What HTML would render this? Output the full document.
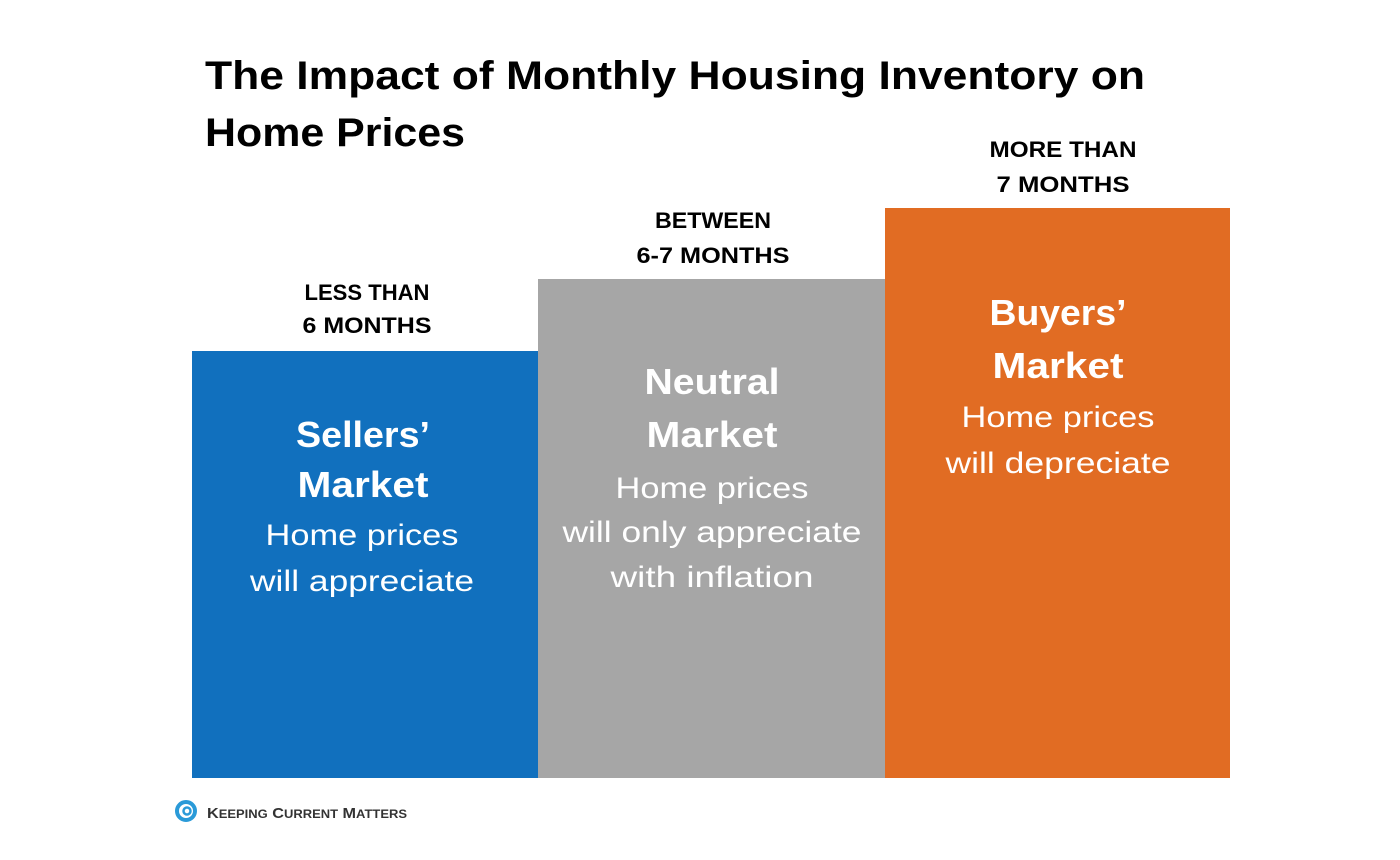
<!DOCTYPE html>
<html><head><meta charset="utf-8"><style>html,body{margin:0;padding:0;background:#fff}svg{display:block}</style></head>
<body>
<svg width="1400" height="860" xmlns="http://www.w3.org/2000/svg" font-family="Liberation Sans, sans-serif">
<rect width="1400" height="860" fill="#fff"/>
<text x="205" y="89" font-size="40" font-weight="bold" fill="#000" textLength="940" lengthAdjust="spacingAndGlyphs">The Impact of Monthly Housing Inventory on</text>
<text x="205" y="146" font-size="40" font-weight="bold" fill="#000" textLength="260" lengthAdjust="spacingAndGlyphs">Home Prices</text>
<rect x="192" y="351" width="346" height="427" fill="#1170be"/>
<rect x="538" y="279" width="347" height="499" fill="#a6a6a6"/>
<rect x="885" y="208" width="345" height="570" fill="#e16c23"/>
<g font-weight="bold" font-size="22" fill="#000" text-anchor="middle" lengthAdjust="spacingAndGlyphs">
<text x="367" y="300" textLength="125" lengthAdjust="spacingAndGlyphs">LESS THAN</text>
<text x="367" y="333" textLength="129" lengthAdjust="spacingAndGlyphs">6 MONTHS</text>
<text x="713" y="228" textLength="116" lengthAdjust="spacingAndGlyphs">BETWEEN</text>
<text x="713" y="263" textLength="153" lengthAdjust="spacingAndGlyphs">6-7 MONTHS</text>
<text x="1063" y="157" textLength="147" lengthAdjust="spacingAndGlyphs">MORE THAN</text>
<text x="1063" y="192" textLength="133" lengthAdjust="spacingAndGlyphs">7 MONTHS</text>
</g>
<g fill="#fff" text-anchor="middle">
<text x="363" y="447" font-size="36" font-weight="bold" textLength="134" lengthAdjust="spacingAndGlyphs">Sellers’</text>
<text x="363" y="497" font-size="36" font-weight="bold" textLength="131" lengthAdjust="spacingAndGlyphs">Market</text>
<text x="362" y="545" font-size="30" textLength="193" lengthAdjust="spacingAndGlyphs">Home prices</text>
<text x="362" y="591" font-size="30" textLength="224" lengthAdjust="spacingAndGlyphs">will appreciate</text>
<text x="712" y="394" font-size="36" font-weight="bold" textLength="135" lengthAdjust="spacingAndGlyphs">Neutral</text>
<text x="712" y="447" font-size="36" font-weight="bold" textLength="131" lengthAdjust="spacingAndGlyphs">Market</text>
<text x="712" y="498" font-size="30" textLength="193" lengthAdjust="spacingAndGlyphs">Home prices</text>
<text x="712" y="542" font-size="30" textLength="299" lengthAdjust="spacingAndGlyphs">will only appreciate</text>
<text x="712" y="587" font-size="30" textLength="203" lengthAdjust="spacingAndGlyphs">with inflation</text>
<text x="1058" y="325" font-size="36" font-weight="bold" textLength="137" lengthAdjust="spacingAndGlyphs">Buyers’</text>
<text x="1058" y="378" font-size="36" font-weight="bold" textLength="131" lengthAdjust="spacingAndGlyphs">Market</text>
<text x="1058" y="427" font-size="30" textLength="193" lengthAdjust="spacingAndGlyphs">Home prices</text>
<text x="1058" y="473" font-size="30" textLength="225" lengthAdjust="spacingAndGlyphs">will depreciate</text>
</g>
<circle cx="186" cy="811" r="9" fill="none" stroke="#2a9ad8" stroke-width="4"/>
<circle cx="187" cy="811" r="3.5" fill="none" stroke="#2a9ad8" stroke-width="2.5"/>
<text x="207" y="818" font-size="15" font-weight="bold" fill="#333" textLength="200" lengthAdjust="spacingAndGlyphs">K<tspan font-size="12">EEPING</tspan> C<tspan font-size="12">URRENT</tspan> M<tspan font-size="12">ATTERS</tspan></text>
</svg>
</body></html>
